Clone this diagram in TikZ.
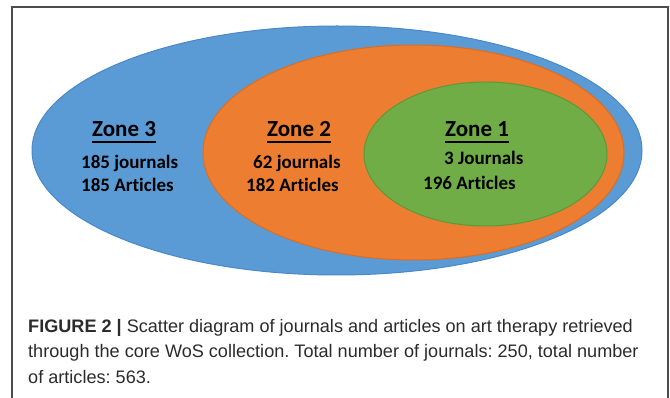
\documentclass[tikz,border=0pt]{standalone}
\usepackage{fontspec}
\setmainfont{Liberation Sans}
\newfontfamily\zonefont[Ligatures=NoCommon]{Carlito}
\usetikzlibrary{shapes.geometric}
\frenchspacing

\definecolor{zoneblue}{HTML}{5B9BD5}
\definecolor{zonebluedark}{HTML}{4A88C7}
\definecolor{zoneorange}{HTML}{ED7D31}
\definecolor{zoneorangedark}{HTML}{DE6C1F}
\definecolor{zonegreen}{HTML}{70AD47}
\definecolor{zonegreendark}{HTML}{5C9A37}
\definecolor{captext}{HTML}{2B2B2B}

% underlined zone heading
\newcommand\zoneul[1]{\setbox0\hbox{#1}\rlap{\rule[-5.8pt]{\wd0}{2.2pt}}\box0}

\begin{document}
\begin{tikzpicture}[x=1pt, y=-1pt]
        \tikzstyle{zone}=[ellipse, inner sep=0pt, line width=1pt]
        \tikzstyle{zonehead}=[anchor=base, inner sep=0pt, font=\zonefont\bfseries\fontsize{23}{23}\selectfont]
        \tikzstyle{zonetext}=[anchor=base west, inner sep=0pt, font=\zonefont\bfseries\fontsize{19}{19}\selectfont]
        \tikzstyle{capline}=[anchor=base west, inner sep=0pt, text=captext, font=\fontsize{18.1}{25}\selectfont]
        \useasboundingbox (0,0) rectangle (670,398);
        \draw[black!70, line width=1.1pt] (12,398) |- (668,7) -- (668,398);
        \node [zone, fill=zoneblue, draw=zonebluedark, minimum width=610pt, minimum height=249pt] (zone3) at (337,150.5) {};
        \node [zone, fill=zoneorange, draw=zoneorangedark, minimum width=421pt, minimum height=215pt] (zone2) at (413.5,152.5) {};
        \node [zone, fill=zonegreen, draw=zonegreendark, minimum width=243pt, minimum height=144pt] (zone1) at (485.5,154) {};
        % zone 3
        \node [zonehead] (head3) at (124,137) {\zoneul{Zone 3}};
        \node [zonetext] (jour3) at (81,169) {185 journals};
        \node [zonetext] (art3) at (81,192) {185 Articles};
        % zone 2
        \node [zonehead] (head2) at (299,137) {\zoneul{Zone 2}};
        \node [zonetext] (jour2) at (253,169) {62 journals};
        \node [zonetext] (art2) at (246,192) {182 Articles};
        % zone 1
        \node [zonehead] (head1) at (477,137) {\zoneul{Zone 1}};
        \node [zonetext] (jour1) at (444,165) {3 Journals};
        \node [zonetext] (art1) at (423,190) {196 Articles};
        % caption
        \node [capline] (cap1) at (28,333) {\textbf{FIGURE 2 |} Scatter diagram of journals and articles on art therapy retrieved};
        \node [capline] (cap2) at (28,358) {through the core WoS collection. Total number of journals: 250, total number};
        \node [capline] (cap3) at (28,383) {of articles: 563.};
    \end{tikzpicture}
\end{document}
